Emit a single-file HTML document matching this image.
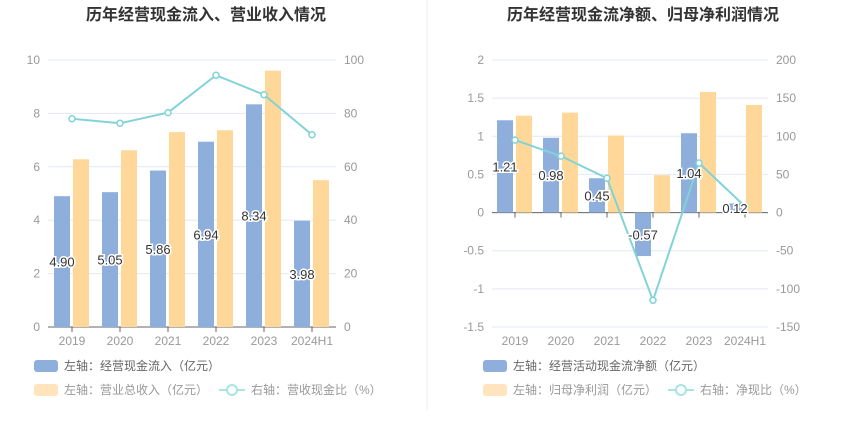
<!DOCTYPE html>
<html><head><meta charset="utf-8"><style>
body{margin:0;background:#fff;width:850px;height:437px;overflow:hidden;font-family:"Liberation Sans","Noto Sans CJK SC",sans-serif}
</style></head><body>
<svg id="s" width="850" height="437" xmlns="http://www.w3.org/2000/svg" font-family="Liberation Sans, Noto Sans CJK SC, sans-serif">
<line x1="427" y1="0" x2="427" y2="410" stroke="#eee"/>
</svg>
<script>
const cats=["2019","2020","2021","2022","2023","2024H1"];
const inflow=[4.90,5.05,5.86,6.94,8.34,3.98];
const revenue=[6.28,6.62,7.30,7.37,9.60,5.50];
const ratio1=[78,76.3,80.3,94.3,87,72];
const netcf=[1.21,0.98,0.45,-0.57,1.04,0.12];
const profit=[1.27,1.31,1.01,0.49,1.58,1.41];
const ratio2=[95,74,45,-115,65,8];
const leftTicks=[0,2,4,6,8,10], rightTicks1=[0,20,40,60,80,100];
const leftTicks2=[-1.5,-1,-0.5,0,0.5,1,1.5,2], rightTicks2=[-150,-100,-50,0,50,100,150,200];
const svg=document.getElementById('s');const NS='http://www.w3.org/2000/svg';
function el(t,a,txt){const e=document.createElementNS(NS,t);for(const k in a)e.setAttribute(k,a[k]);if(txt!=null)e.textContent=txt;svg.appendChild(e);return e;}
function chart(o){
 const x0=o.x0,x1=o.x1,yTop=60,yBot=327;const cw=(x1-x0)/cats.length;
 const yL=v=>yBot-(v-o.lmin)/(o.lmax-o.lmin)*(yBot-yTop);
 const yR=v=>yBot-(v-o.rmin)/(o.rmax-o.rmin)*(yBot-yTop);
 let t=el('text',{x:o.cx,y:20,'text-anchor':'middle','font-size':16,'font-weight':'bold',fill:'#333'},o.title);
 
 o.lt.forEach((v,i)=>{const y=yL(v);
  let g=el('line',{x1:x0,x2:x1,y1:y,y2:y,stroke:'#e3e8f3'});
  let a=el('text',{x:x0-8,y:y+4,'text-anchor':'end','font-size':12,fill:'#999'},String(v));
  let b=el('text',{x:x1+8,y:y+4,'font-size':12,fill:'#999'},String(o.rt[i]));});
 const y0=yL(0);
 let ax=el('line',{x1:x0,x2:x1,y1:y0,y2:y0,stroke:'#666'});
 cats.forEach((c,i)=>{const cx=x0+cw*(i+0.5);
  el('line',{x1:cx,x2:cx,y1:y0,y2:y0+5,stroke:'#666'});
  let l=el('text',{x:cx,y:345,'text-anchor':'middle','font-size':12,fill:'#999'},c);
  const v=o.a[i];const ya=yL(v);
  let r=el('rect',{x:cx-18,y:Math.min(ya,y0),width:16,height:Math.abs(ya-y0),fill:'#8eaedb'});
  const yb=yL(o.b[i]);
  let r2=el('rect',{x:cx+1,y:Math.min(yb,y0),width:16,height:Math.abs(yb-y0),fill:'#ffd899'});
 });
 const pts=o.line.map((v,i)=>[x0+cw*(i+0.5),yR(v)]);
 let p=el('polyline',{points:pts.map(q=>q.join(',')).join(' '),fill:'none',stroke:'#82d3d8','stroke-width':2});
 pts.forEach(q=>{let c=el('circle',{cx:q[0],cy:q[1],r:3,fill:'#fff',stroke:'#82d3d8','stroke-width':1.5});});
 cats.forEach((c,i)=>{const cx=x0+cw*(i+0.5)-10;const v=o.a[i];const y=(yL(v)+y0)/2+(v<0?0:o.labOff);
  let t=el('text',{x:cx,y:y+5,'text-anchor':'middle','font-size':13,fill:'#333',stroke:'#fff','stroke-width':3,'paint-order':'stroke'},v.toFixed(2));});
 // legend
 let s1=el('rect',{x:o.lx,y:360,width:24,height:12,rx:3,fill:'#8eaedb'});
 let t1=el('text',{x:o.lx+30,y:370,'font-size':12,fill:'#666'},o.la);
 let s2=el('rect',{x:o.lx,y:384,width:24,height:12,rx:3,fill:'#ffe4bd'});
 let t2=el('text',{x:o.lx+30,y:394,'font-size':12,fill:'#999'},o.lb);
 el('line',{x1:o.l3,x2:o.l3+26,y1:390,y2:390,stroke:'#a8e3e6','stroke-width':2});
 el('circle',{cx:o.l3+13,cy:390,r:5,fill:'#fff',stroke:'#a8e3e6','stroke-width':2});
 let t3=el('text',{x:o.l3+32,y:394,'font-size':12,fill:'#999'},o.lc);
}
chart({pre:'left',x0:48,x1:336,cx:206,title:'历年经营现金流入、营业收入情况',lmin:0,lmax:10,rmin:0,rmax:100,lt:leftTicks,rt:rightTicks1,a:inflow,b:revenue,line:ratio1,labOff:0,lx:34,l3:219,la:'左轴：经营现金流入（亿元）',lb:'左轴：营业总收入（亿元）',lc:'右轴：营收现金比（%）'});
chart({pre:'right',x0:492,x1:768,cx:643,title:'历年经营现金流净额、归母净利润情况',lmin:-1.5,lmax:2,rmin:-150,rmax:200,lt:leftTicks2,rt:rightTicks2,a:netcf,b:profit,line:ratio2,labOff:0,lx:483,l3:668,la:'左轴：经营活动现金流净额（亿元）',lb:'左轴：归母净利润（亿元）',lc:'右轴：净现比（%）'});
</script>
</body></html>
